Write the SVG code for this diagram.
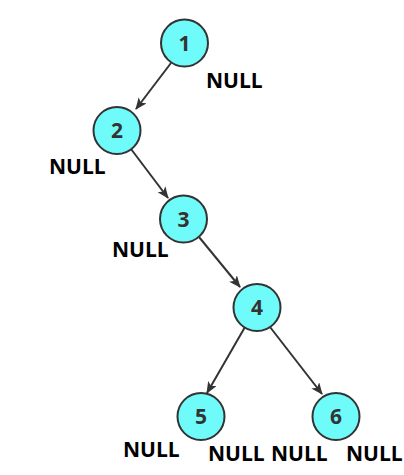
<svg xmlns="http://www.w3.org/2000/svg" width="404" height="475" viewBox="0 0 404 475">
<style>
.node circle{fill:#70fbfb;stroke:#333;stroke-width:2}
.node text{font-family:"Open Sans",sans-serif;font-weight:bold;font-size:21px;fill:#333;text-anchor:middle}
.null{font-family:"Open Sans",sans-serif;font-weight:bold;font-size:21px;fill:#000}
.edge{stroke:#333;stroke-width:2;fill:none;marker-end:url(#arr)}
</style>
<defs>
<marker id="arr" viewBox="0 0 12 10" refX="11" refY="5" markerWidth="12" markerHeight="10" markerUnits="userSpaceOnUse" orient="auto">
<path d="M0,0 L12,5 L0,10 L3,5 Z" fill="#333"/>
</marker>
</defs>
<g id="connectors">
<line class="edge" x1="171" y1="63" x2="136" y2="109"/>
<line class="edge" x1="131" y1="149" x2="168" y2="198"/>
<line class="edge" x1="199" y1="237" x2="240" y2="287"/>
<line class="edge" x1="245" y1="327" x2="207" y2="393"/>
<line class="edge" x1="270" y1="327" x2="322" y2="394"/>
</g>
<g id="n1" class="node"><circle cx="184.5" cy="43" r="23.5"/><text x="184.5" y="50.5">1</text></g>
<g id="n2" class="node"><circle cx="117" cy="130.5" r="23.5"/><text x="117" y="138">2</text></g>
<g id="n3" class="node"><circle cx="183.5" cy="219" r="23.5"/><text x="183.5" y="226.5">3</text></g>
<g id="n4" class="node"><circle cx="257" cy="307.5" r="23.5"/><text x="257" y="315">4</text></g>
<g id="n5" class="node"><circle cx="201" cy="416.5" r="23.5"/><text x="201" y="424">5</text></g>
<g id="n6" class="node"><circle cx="336" cy="416.5" r="23.5"/><text x="336" y="424">6</text></g>
<g id="labels">
<text class="null" x="206" y="88">NULL</text>
<text class="null" x="49" y="174">NULL</text>
<text class="null" x="112" y="257">NULL</text>
<text class="null" x="123" y="457">NULL</text>
<text class="null" x="208" y="461">NULL</text>
<text class="null" x="271" y="461">NULL</text>
<text class="null" x="346" y="461">NULL</text>
</g>
</svg>
